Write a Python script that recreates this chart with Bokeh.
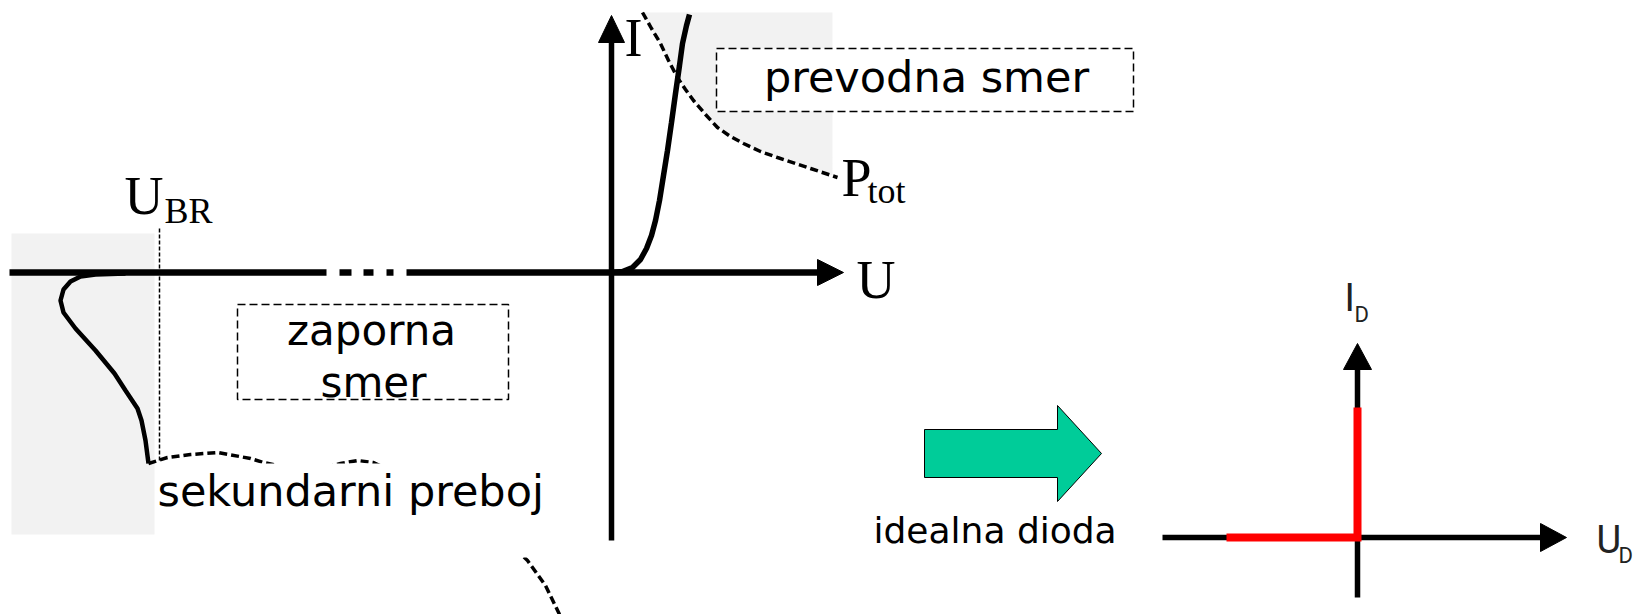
import numpy as np
from bokeh.plotting import figure
from bokeh.models import Range1d
from bokeh.core.properties import value
from bokeh.embed import file_html
from bokeh.resources import INLINE

# ---------------- data (diagram coordinates, y grows downward) ----------------
# forward characteristic (I-U, conducting direction)
fwd_u = [611, 622, 632, 640, 646, 651, 655, 659, 663, 667, 671, 675, 679, 682, 686, 689]
fwd_i = [272, 271, 267, 259, 248, 235, 220, 200, 175, 150, 122, 93, 65, 43, 25, 14]

# Ptot hyperbola (dashed)
ptot_u = [642, 651, 660, 668, 677, 685, 693, 705, 717, 730, 743, 760, 777, 795, 810, 825, 837]
ptot_i = [12, 28, 43, 60, 77, 89, 100, 114, 127, 136, 143, 151, 157, 163, 168, 173, 177]

# reverse breakdown curve (solid)
brk_u = [125, 95, 80, 70, 63, 60, 63, 75, 95, 114, 125, 137, 141, 145, 148]
brk_i = [273, 274, 276, 281, 289, 300, 312, 328, 350, 373, 390, 408, 420, 440, 463]

# secondary breakdown curve (dashed)
sec_u = [148, 167, 190, 217, 250, 263, 290, 320, 340, 357, 373, 400, 450, 490, 527, 545, 560]
sec_i = [463, 457, 454, 452, 458, 462, 468, 468, 463, 460, 462, 475, 500, 525, 560, 585, 616]

# ideal diode characteristic
ideal_u = [1226, 1357, 1357]
ideal_i = [537, 537, 407]

# labels
box_labels = ["zaporna", "smer"]
top_label = ["prevodna smer"]
note_labels = ["sekundarni preboj", "idealna dioda"]
axis_labels = ["U", "I", "U", "P"]
sub_labels = ["BR", "tot"]

# ---------------- figure ----------------
W, H = 1643, 614
p = figure(width=W, height=H, output_backend="svg", toolbar_location=None,
           x_range=Range1d(0, W), y_range=Range1d(H, 0),
           x_axis_location=None, y_axis_location=None, min_border=0)
p.outline_line_color = None
p.grid.visible = False
p.background_fill_color = "white"
p.border_fill_color = "white"


def base(ys, fs):
    # place the alphabetic baseline at the requested y
    return [y - 0.36 * fs for y in ys]


GRAY = "#f2f2f2"
# gray shaded areas
p.quad(left=[11], right=[154], top=[233], bottom=[534], fill_color=GRAY, line_color=None)
gx = [ptot_u[0], 832, 832] + [u for u in ptot_u[::-1] if u <= 832]
gy = [12, 12, 175] + [i for u, i in zip(ptot_u[::-1], ptot_i[::-1]) if u <= 832]
p.patch(gx, gy, fill_color=GRAY, line_color=None)

# secondary breakdown dashed curve, partly hidden behind label background
p.line(sec_u, sec_i, line_color="black", line_width=3.5, line_dash="8 4")
p.quad(left=[155], right=[600], top=[463], bottom=[557], fill_color="white", line_color=None)

# U_BR dashed marker
p.line([159, 159], [228, 460], line_color="black", line_width=1.5, line_dash="4 2")

# main axes
AX = 6.5
p.line([9, 326], [272, 272], line_color="black", line_width=AX)
p.line([339, 351], [272, 272], line_color="black", line_width=AX)
p.line([363, 373], [272, 272], line_color="black", line_width=AX)
p.line([386, 393], [272, 272], line_color="black", line_width=AX)
p.line([406, 820], [272, 272], line_color="black", line_width=AX)
p.patch([817, 843, 817], [259, 272, 285], fill_color="black", line_color="black")
p.line([611, 611], [540, 40], line_color="black", line_width=5.5)
p.patch([598, 611, 624], [42, 15, 42], fill_color="black", line_color="black")

# curves
p.line(brk_u, brk_i, line_color="black", line_width=4.5)
p.line(fwd_u, fwd_i, line_color="black", line_width=5.5)
p.line(ptot_u, ptot_i, line_color="black", line_width=3.5, line_dash="8 4")

# dashed label boxes
p.quad(left=[716, 237], right=[1133, 508], top=[48, 304], bottom=[111, 399],
       fill_color="white", line_color="black", line_width=1.5, line_dash="8 4")

SANS = value("DejaVu Sans")
SERIF = value("Liberation Serif")
NARROW = value("Roboto")

p.text(x=[926], y=base([92], 43), text=top_label, text_font=SANS,
       text_font_size="43px", text_align="center", text_baseline="alphabetic", text_color="black")
p.text(x=[371, 373], y=base([345, 397], 42), text=box_labels, text_font=SANS,
       text_font_size="42px", text_align="center", text_baseline="alphabetic", text_color="black")
p.text(x=[157], y=base([506], 43), text=[note_labels[0]], text_font=SANS,
       text_font_size="43px", text_align="left", text_baseline="alphabetic", text_color="black")
p.text(x=[873], y=base([543], 36), text=[note_labels[1]], text_font=SANS,
       text_font_size="36px", text_align="left", text_baseline="alphabetic", text_color="black")

p.text(x=[124, 624, 856, 841], y=base([215, 57, 299, 197], 54), text=axis_labels, text_font=SERIF,
       text_font_size="54px", text_align="left", text_baseline="alphabetic", text_color="black")
p.text(x=[164, 867], y=base([223, 203], 36), text=sub_labels, text_font=SERIF,
       text_font_size="36px", text_align="left", text_baseline="alphabetic", text_color="black")

# right diagram: ideal diode
p.line([1162, 1543], [537, 537], line_color="black", line_width=5.5)
p.patch([1540, 1566, 1540], [523, 537, 551], fill_color="black", line_color="black")
p.line([1357, 1357], [597, 366], line_color="black", line_width=5.5)
p.patch([1343, 1357, 1371], [369, 343, 369], fill_color="black", line_color="black")
p.line(ideal_u, ideal_i, line_color="#ff0000", line_width=8, line_join="miter")

p.text(x=[1344, 1596], y=base([311, 553], 38), text=["I", "U"], text_font=NARROW,
       text_font_size="38px", text_align="left", text_baseline="alphabetic", text_color="#222222")
p.text(x=[1354, 1618], y=base([322, 563], 22), text=["D", "D"], text_font=NARROW,
       text_font_size="22px", text_align="left", text_baseline="alphabetic", text_color="#222222")

# green block arrow
p.patch([924, 1057, 1057, 1101, 1057, 1057, 924], [429, 429, 405, 453, 501, 477, 477],
        fill_color="#00cc99", line_color="black", line_width=1)

open("out.html", "w").write(file_html(p, INLINE))
